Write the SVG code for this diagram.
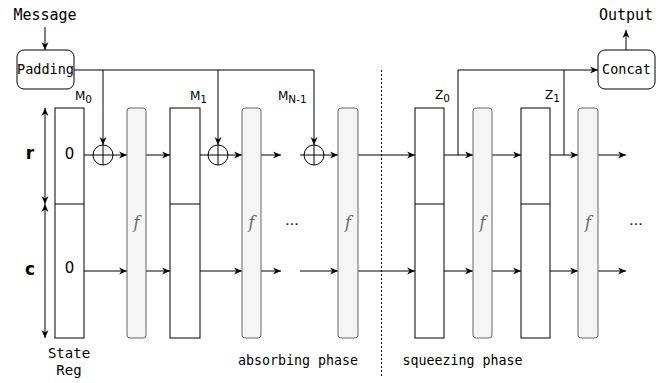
<svg xmlns="http://www.w3.org/2000/svg" width="672" height="383" viewBox="0 0 672 383">
<defs>
<marker id="arr" markerUnits="userSpaceOnUse" markerWidth="9" markerHeight="8" refX="8" refY="3.5" orient="auto-start-reverse" overflow="visible">
<path d="M0,0 L8,3.5 L0,7 L2.5,3.5 Z" fill="#000"/>
</marker>
</defs>
<style>
.mono{font-family:"DejaVu Sans Mono",monospace;fill:#000}
.sans{font-family:"DejaVu Sans",sans-serif;fill:#000}
.reg{fill:#fff;stroke:#000;stroke-width:1}
.fbox{fill:#f5f5f5;stroke:#666;stroke-width:1}
.rbox{fill:#fff;stroke:#000;stroke-width:1}
.ln{fill:none;stroke:#000;stroke-width:1}
.ar{fill:none;stroke:#000;stroke-width:1;marker-end:url(#arr)}
.fl{font-family:"DejaVu Serif",serif;font-style:italic;font-size:16px;fill:#666;text-anchor:middle}
.xor{fill:#fff;stroke:#000;stroke-width:1}
.lbl{font-family:"DejaVu Sans",sans-serif;font-size:12px;fill:#000}
</style>
<rect width="672" height="383" fill="#fff"/>

<g id="connectors">
<path class="ar" d="M45,27 L45,50"/>
<path class="ln" d="M74,70 L314,70"/>
<path class="ar" d="M103,70 L103,145"/>
<path class="ar" d="M218,70 L218,145"/>
<path class="ar" d="M314,70 L314,145"/>
<path class="ar" d="M626,50 L626,30"/>
<path class="ar" d="M458,155 L458,70 L598,70"/>
<path class="ln" d="M564,155 L564,70"/>
<!-- r row -->
<path class="ln" d="M84,155 L93,155"/>
<path class="ar" d="M113,155 L127,155"/>
<path class="ar" d="M146,155 L170,155"/>
<path class="ln" d="M200,155 L208,155"/>
<path class="ar" d="M228,155 L242,155"/>
<path class="ar" d="M261,155 L281,155"/>
<path class="ln" d="M300,155 L304,155"/>
<path class="ar" d="M324,155 L338,155"/>
<path class="ar" d="M358,155 L415,155"/>
<path class="ar" d="M444,155 L473,155"/>
<path class="ar" d="M492,155 L521,155"/>
<path class="ar" d="M550,155 L578,155"/>
<path class="ar" d="M598,155 L626,155"/>
<!-- c row -->
<path class="ar" d="M84,271 L127,271"/>
<path class="ar" d="M146,271 L170,271"/>
<path class="ar" d="M200,271 L242,271"/>
<path class="ar" d="M261,271 L281,271"/>
<path class="ar" d="M300,271 L338,271"/>
<path class="ar" d="M358,271 L415,271"/>
<path class="ar" d="M444,271 L473,271"/>
<path class="ar" d="M492,271 L521,271"/>
<path class="ar" d="M550,271 L578,271"/>
<path class="ar" d="M598,271 L626,271"/>
<!-- size arrows -->
<path class="ln" d="M45,108 L45,204" marker-start="url(#arr)" marker-end="url(#arr)"/>
<path class="ln" d="M45,204 L45,338" marker-start="url(#arr)" marker-end="url(#arr)"/>
<!-- phase separator -->
<path d="M381.5,70 L381.5,378" fill="none" stroke="#000" stroke-width="1" stroke-dasharray="2 2"/>
</g>

<g id="message"><text class="mono" x="45" y="20" font-size="15" text-anchor="middle">Message</text></g>
<g id="padding">
<rect class="rbox" x="17" y="50" width="57" height="39" rx="7"/>
<text class="mono" x="45.5" y="74" font-size="13.5" text-anchor="middle">Padding</text>
</g>
<g id="output"><text class="mono" x="626" y="20" font-size="15" text-anchor="middle">Output</text></g>
<g id="concat">
<rect class="rbox" x="598" y="50" width="57" height="39" rx="7"/>
<text class="mono" x="626.5" y="74" font-size="13.5" text-anchor="middle">Concat</text>
</g>

<g id="labels-rc">
<text class="sans" x="30" y="159" font-size="17" font-weight="bold" text-anchor="middle">r</text>
<text class="sans" x="30" y="275" font-size="17" font-weight="bold" text-anchor="middle">c</text>
</g>

<g id="state-reg">
<rect class="reg" x="55" y="108" width="29" height="230"/>
<line class="ln" x1="55" y1="204" x2="84" y2="204"/>
<text class="sans" x="69.5" y="159" font-size="15" text-anchor="middle">0</text>
<text class="sans" x="69.5" y="273" font-size="15" text-anchor="middle">0</text>
<text class="mono" x="69" y="358" font-size="14" text-anchor="middle">State</text>
<text class="mono" x="69" y="375" font-size="14" text-anchor="middle">Reg</text>
</g>
<g id="m0"><text class="lbl" x="75" y="100">M<tspan font-size="10.5" dy="3">0</tspan></text></g>
<g id="reg1">
<rect class="reg" x="170" y="108" width="30" height="230"/>
<line class="ln" x1="170" y1="204" x2="200" y2="204"/>
</g>
<g id="m1"><text class="lbl" x="190" y="100">M<tspan font-size="10.5" dy="3">1</tspan></text></g>
<g id="mn1"><text class="lbl" x="278" y="100">M<tspan font-size="10.5" dy="3">N-1</tspan></text></g>
<g id="z0reg">
<rect class="reg" x="415" y="108" width="29" height="230"/>
<line class="ln" x1="415" y1="204" x2="444" y2="204"/>
</g>
<g id="z0"><text class="lbl" x="435" y="99">Z<tspan font-size="10.5" dy="3">0</tspan></text></g>
<g id="z1reg">
<rect class="reg" x="521" y="108" width="29" height="230"/>
<line class="ln" x1="521" y1="204" x2="550" y2="204"/>
</g>
<g id="z1"><text class="lbl" x="545" y="99">Z<tspan font-size="10.5" dy="3">1</tspan></text></g>

<g id="f1"><rect class="fbox" x="127" y="108" width="19" height="230" rx="3"/><text class="fl" x="136.5" y="228">f</text></g>
<g id="f2"><rect class="fbox" x="242" y="108" width="19" height="230" rx="3"/><text class="fl" x="251.5" y="228">f</text></g>
<g id="f3"><rect class="fbox" x="338" y="108" width="20" height="230" rx="3"/><text class="fl" x="348" y="228">f</text></g>
<g id="f4"><rect class="fbox" x="473" y="108" width="19" height="230" rx="3"/><text class="fl" x="482.5" y="228">f</text></g>
<g id="f5"><rect class="fbox" x="578" y="108" width="20" height="230" rx="3"/><text class="fl" x="588" y="228">f</text></g>

<g id="xor1"><circle class="xor" cx="103" cy="155" r="10"/><path class="ln" d="M93,155 L113,155 M103,145 L103,165"/></g>
<g id="xor2"><circle class="xor" cx="218" cy="155" r="10"/><path class="ln" d="M208,155 L228,155 M218,145 L218,165"/></g>
<g id="xor3"><circle class="xor" cx="314" cy="155" r="10"/><path class="ln" d="M304,155 L324,155 M314,145 L314,165"/></g>

<g id="dots1"><text class="sans" x="292" y="225" font-size="14" text-anchor="middle">...</text></g>
<g id="dots2"><text class="sans" x="636" y="225" font-size="14" text-anchor="middle">...</text></g>

<g id="phases">
<text class="mono" x="298" y="365" font-size="13.3" text-anchor="middle">absorbing phase</text>
<text class="mono" x="462.5" y="365" font-size="13.3" text-anchor="middle">squeezing phase</text>
</g>
</svg>
